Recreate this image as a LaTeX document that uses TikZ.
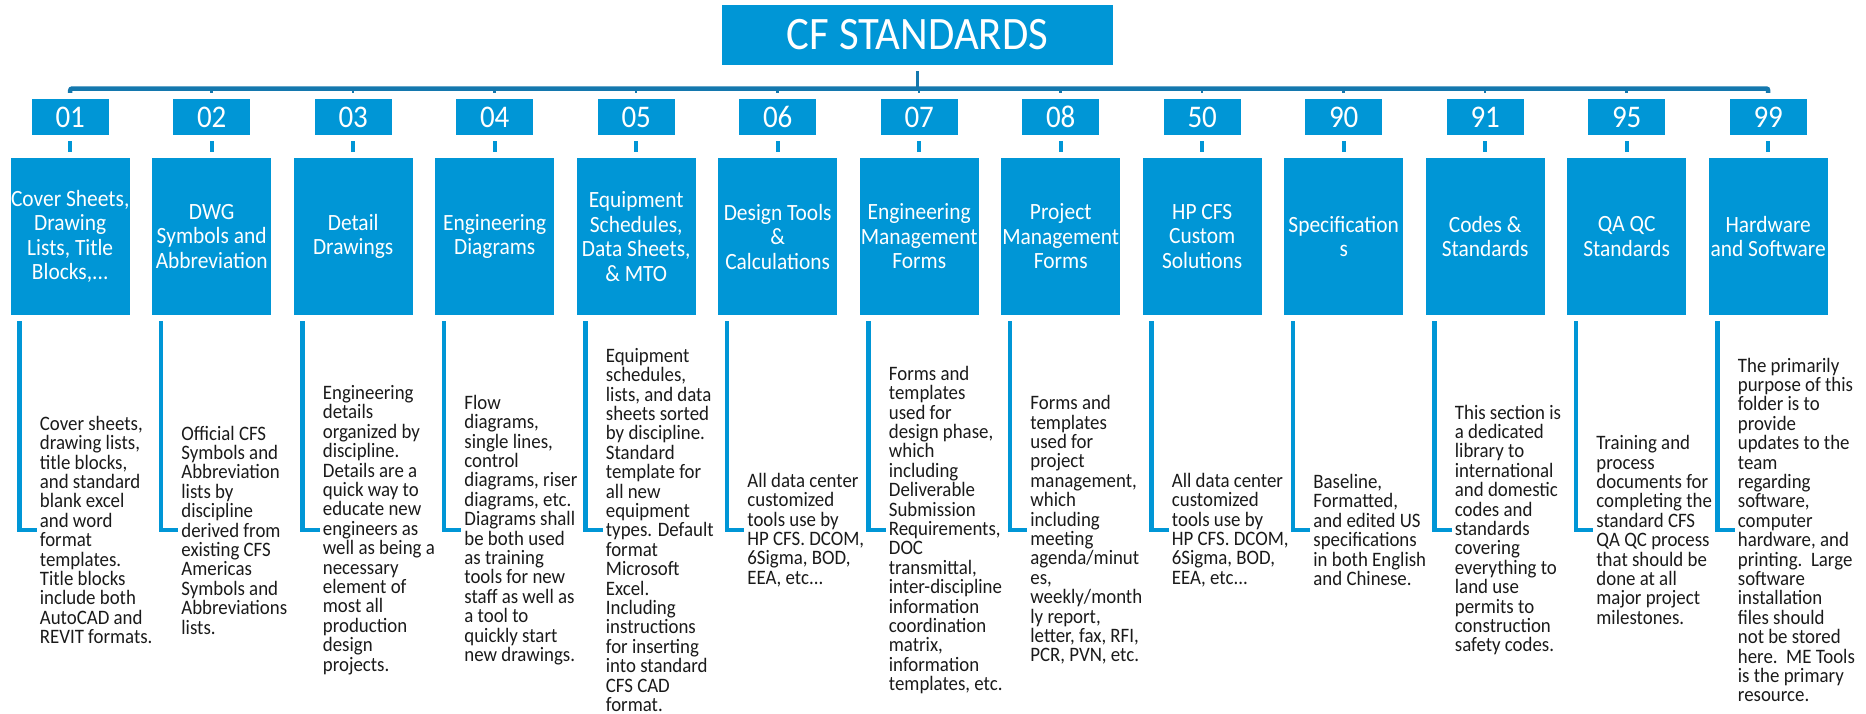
\documentclass[tikz,border=0pt]{standalone}
\usepackage{fontspec}
\setmainfont{Carlito}[FakeStretch=0.92]
\setlength\lineskiplimit{-20pt}
\definecolor{hpblue}{HTML}{0096D6}
\definecolor{busblue}{HTML}{1478AE}
\definecolor{txt}{HTML}{1A1A1A}
\tikzset{
 titlebox/.style={fill=hpblue, minimum width=391pt, minimum height=60pt, inner sep=0pt, text=white, font=\fontsize{46.5}{50}\selectfont},
 numbox/.style={fill=hpblue, minimum width=77pt, minimum height=36pt, inner sep=0pt, text=white, font=\fontsize{31.5}{32}\selectfont},
 catbox/.style={fill=hpblue, minimum width=119pt, minimum height=157pt, inner sep=0pt, text=white, align=center, font=\fontsize{23.3}{24.5}\selectfont},
 desc/.style={anchor=west, inner sep=0pt, align=left, text=txt, font=\fontsize{20.5}{19.4}\selectfont},
 bus/.style={draw=busblue, line width=4.5pt},
 stub/.style={draw=busblue, line width=2.5pt},
 tick/.style={draw=hpblue, line width=4pt},
 elbow/.style={draw=hpblue, line width=4.5pt},
}
\newcommand\cfcol[4]{%
 \pgfmathsetmacro\cx{70.2+141.5*#1}%
 \node[numbox] (n#1) at (\cx,117) {#2};
 \node[catbox] (c#1) at (\cx,236.5) {#3};
 \node[desc] (d#1) at (\cx-30.5,530) {#4};
 \draw[tick] ([yshift=-6pt]n#1.south) -- ([yshift=6pt]c#1.north);
 \draw[elbow] ([xshift=9pt,yshift=-6pt]c#1.south west) |- ([xshift=-3pt]d#1.west);
}
\begin{document}
\begin{tikzpicture}[x=1pt,y=-1pt]
\useasboundingbox (0,0) rectangle (1866,713);
\node[titlebox] (title) at (917.5,35) {CF STANDARDS};
\coordinate (busy) at (0,88.5);

\cfcol{0}{01}{Cover Sheets,\\Drawing\\Lists, Title\\Blocks,...}{Cover sheets,\\drawing lists,\\title blocks,\\and standard\\blank excel\\and word\\format\\templates.\\Title blocks\\include both\\AutoCAD and\\REVIT formats.}
\cfcol{1}{02}{DWG\\Symbols and\\Abbreviation}{Official CFS\\Symbols and\\Abbreviation\\lists by\\discipline\\derived from\\existing CFS\\Americas\\Symbols and\\Abbreviations\\lists.}
\cfcol{2}{03}{Detail\\Drawings}{Engineering\\details\\organized by\\discipline.\\Details are a\\quick way to\\educate new\\engineers as\\well as being a\\necessary\\element of\\most all\\production\\design\\projects.}
\cfcol{3}{04}{Engineering\\Diagrams}{Flow\\diagrams,\\single lines,\\control\\diagrams, riser\\diagrams, etc.\\Diagrams shall\\be both used\\as training\\tools for new\\staff as well as\\a tool to\\quickly start\\new drawings.}
\cfcol{4}{05}{Equipment\\Schedules,\\Data Sheets,\\\& MTO}{Equipment\\schedules,\\lists, and data\\sheets sorted\\by discipline.\\Standard\\template for\\all new\\equipment\\types. Default\\format\\Microsoft\\Excel.\\Including\\instructions\\for inserting\\into standard\\CFS CAD\\format.}
\cfcol{5}{06}{Design Tools\\\&\\Calculations}{All data center\\customized\\tools use by\\HP CFS. DCOM,\\6Sigma, BOD,\\EEA, etc...}
\cfcol{6}{07}{Engineering\\Management\\Forms}{Forms and\\templates\\used for\\design phase,\\which\\including\\Deliverable\\Submission\\Requirements,\\DOC\\transmittal,\\inter-discipline\\information\\coordination\\matrix,\\information\\templates, etc.}
\cfcol{7}{08}{Project\\Management\\Forms}{Forms and\\templates\\used for\\project\\management,\\which\\including\\meeting\\agenda/minut\\es,\\weekly/month\\ly report,\\letter, fax, RFI,\\PCR, PVN, etc.}
\cfcol{8}{50}{HP CFS\\Custom\\Solutions}{All data center\\customized\\tools use by\\HP CFS. DCOM,\\6Sigma, BOD,\\EEA, etc...}
\cfcol{9}{90}{Specification\\s}{Baseline,\\Formatted,\\and edited US\\specifications\\in both English\\and Chinese.}
\cfcol{10}{91}{Codes \&\\Standards}{This section is\\a dedicated\\library to\\international\\and domestic\\codes and\\standards\\covering\\everything to\\land use\\permits to\\construction\\safety codes.}
\cfcol{11}{95}{QA QC\\Standards}{Training and\\process\\documents for\\completing the\\standard CFS\\QA QC process\\that should be\\done at all\\major project\\milestones.}
\cfcol{12}{99}{Hardware\\and Software}{The primarily\\purpose of this\\folder is to\\provide\\updates to the\\team\\regarding\\software,\\computer\\hardware, and\\printing.\ \ Large\\software\\installation\\files should\\not be stored\\here.\ \ ME Tools\\is the primary\\resource.}

\draw[bus, rounded corners=2pt] ([yshift=6pt]n0.north) |- (busy -| n12.north) -- ([yshift=6pt]n12.north);
\foreach \i in {1,...,11} \draw[stub] ([yshift=6pt]n\i.north) -- (busy -| n\i.north);
\draw[stub] ([yshift=-6pt]title.south) -- (busy -| title.south);
\end{tikzpicture}
\end{document}
